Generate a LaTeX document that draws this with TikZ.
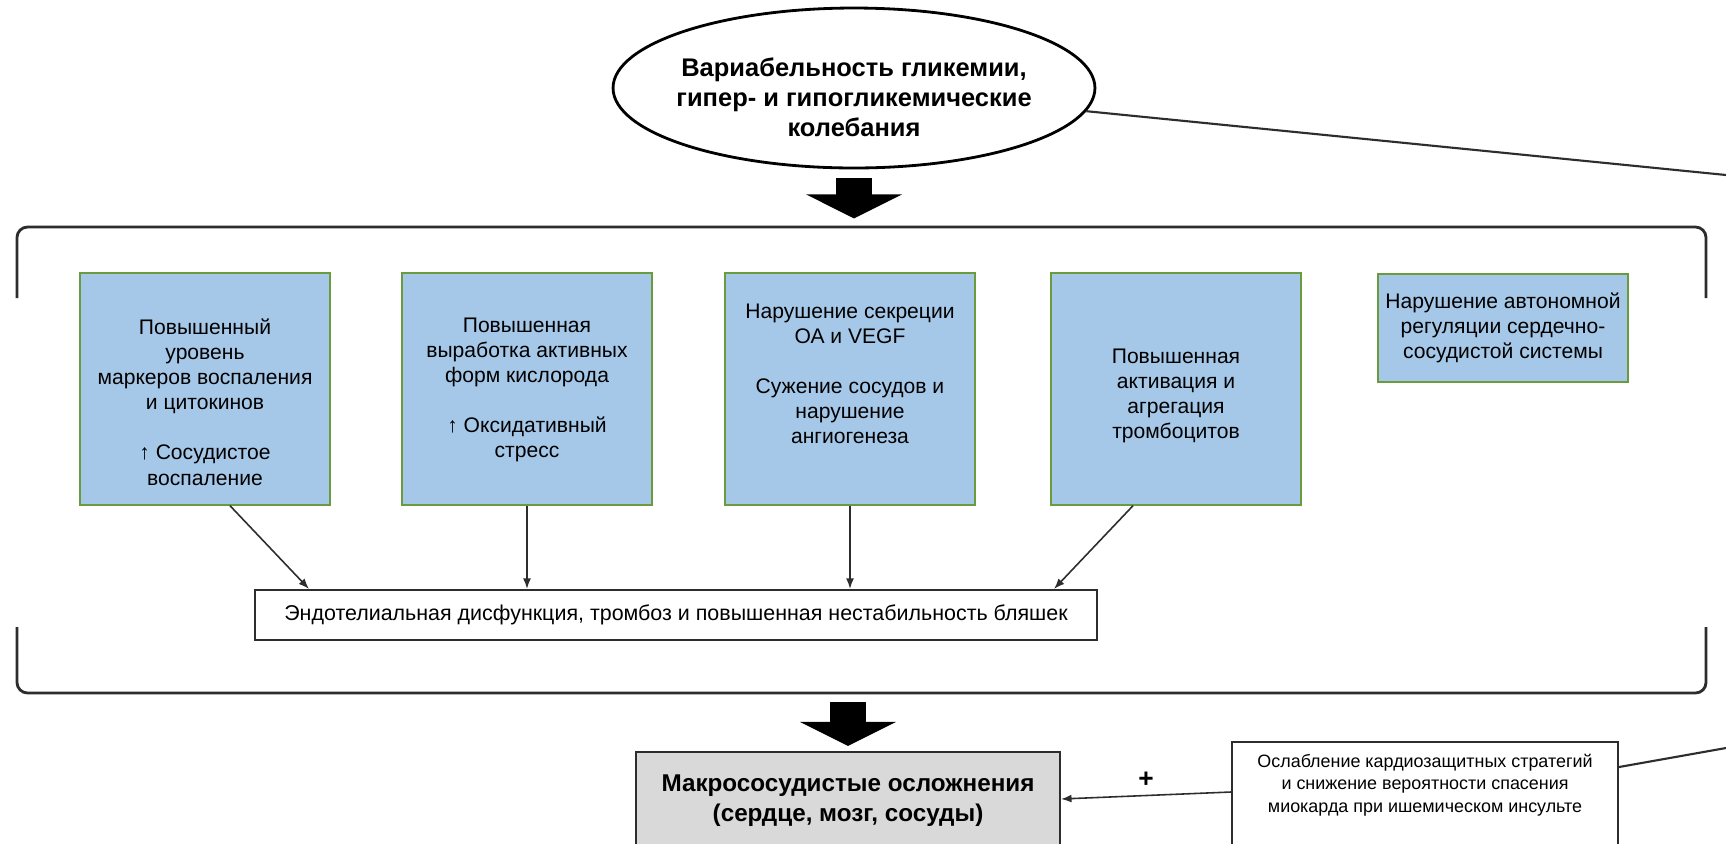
\documentclass[tikz,border=0pt]{standalone}
\usepackage{fontspec}
\setmainfont{Liberation Sans}
\usetikzlibrary{shapes.geometric,arrows.meta,calc}
\definecolor{azul}{RGB}{166,200,232}
\definecolor{verde}{RGB}{106,156,62}
\definecolor{cinza}{RGB}{217,217,217}
\definecolor{escuro}{RGB}{45,45,45}

\begin{document}
\begin{tikzpicture}[x=0.02cm, y=-0.02cm,
    caixa/.style={rectangle, draw=verde, line width=0.8pt, fill=azul,
      minimum width=5cm, minimum height=4.64cm, inner sep=0pt},
    texto/.style={align=center, inner sep=0pt, font=\fontsize{12}{14.3}\selectfont},
    moldura/.style={rectangle, draw=escuro, line width=1.2pt, inner sep=0pt},
    seta/.style={draw=escuro, line width=0.9pt, -{Latex[length=6pt,width=4.5pt]}},
    setagrande/.style={line width=0.72cm, -{Triangle[width=1.9cm,length=0.48cm]}},
    chave/.style={draw=escuro, line width=1.6pt, rounded corners=6pt}]

    \clip (0,0) rectangle (1726,843);
    \fill[white] (0,0) rectangle (1726,843);

    % 1. Elipse no topo
    \node[ellipse, draw, line width=1.6pt, fill=white, minimum width=9.64cm,
      minimum height=3.2cm] (glic) at (854,88) {};
    \node[align=center, inner sep=0pt, font=\bfseries\fontsize{14.5}{17}\selectfont]
      (glict) at (854,97) {Вариабельность гликемии,\\гипер- и гипогликемические\\колебания};
    \coordinate (fim1) at (1726,175);
    \draw[escuro, line width=1.2pt] (glic) -- (fim1);
    \draw[setagrande] ($(glic.south)+(0,9)$) -- ++(0,40);

    % 2. Chave grande
    \draw[chave] (17,298) -- (17,227) -- (1706,227) -- (1706,298);
    \draw[chave] (17,627) -- (17,693) -- (1706,693) -- (1706,627);

    % 3. Caixas azuis
    \node[caixa] (c1) at (205,389) {};
    \node[caixa] (c2) at (527,389) {};
    \node[caixa] (c3) at (850,389) {};
    \node[caixa] (c4) at (1176,389) {};
    \node[caixa, minimum height=2.16cm] (c5) at (1503,328) {};

    \node[texto] (t1) at ($(c1)+(0,13)$) {Повышенный\\уровень\\маркеров воспаления\\и цитокинов\\[\baselineskip]↑ Сосудистое\\воспаление};
    \node[texto] (t2) at ($(c2)+(0,1)$) {Повышенная\\выработка активных\\форм кислорода\\[\baselineskip]↑ Оксидативный\\стресс};
    \node[texto] (t3) at ($(c3)+(0,-15)$) {Нарушение секреции\\ОА и VEGF\\[\baselineskip]Сужение сосудов и\\нарушение\\ангиогенеза};
    \node[texto] (t4) at ($(c4)+(0,7)$) {Повышенная\\активация и\\агрегация\\тромбоцитов};
    \node[texto] (t5) at (c5) {Нарушение автономной\\регуляции сердечно-\\сосудистой системы};

    % 4. Caixa da disfuncao
    \node[moldura, fill=white, minimum width=16.84cm, minimum height=1cm,
      font=\fontsize{12.2}{14.3}\selectfont] (endo) at (676,615)
      {Эндотелиальная дисфункция, тромбоз и повышенная нестабильность бляшек};

    \draw[seta] ($(c1.south)+(25,0)$) -- ($(endo.north)+(-367,0)$);
    \draw[seta] (c2.south) -- (c2.south |- endo.north);
    \draw[seta] (c3.south) -- (c3.south |- endo.north);
    \draw[seta] ($(c4.south)+(-43,0)$) -- ($(endo.north)+(378,0)$);

    % 5. Complicacoes
    \node[moldura, fill=cinza, minimum width=8.48cm, minimum height=1.96cm,
      align=center, font=\bfseries\fontsize{13.8}{17}\selectfont] (macro) at (848,801)
      {Макрососудистые осложнения\\(сердце, мозг, сосуды)};
    \draw[setagrande] ($(macro.north)+(0,-49)$) -- ($(macro.north)+(0,-5)$);

    \node[moldura, fill=white, minimum width=7.72cm, minimum height=2.16cm] (cardio) at (1425,796) {};
    \node[align=center, inner sep=0pt, font=\fontsize{10.2}{12.8}\selectfont] (cardiot) at (1425,785)
      {Ослабление кардиозащитных стратегий\\и снижение вероятности спасения\\миокарда при ишемическом инсульте};
    \draw[seta] ($(cardio.west)+(0,-4)$) -- node[above=1pt, font=\bfseries\fontsize{15}{15}\selectfont] {+} ($(macro.east)+(0,-2)$);
    \coordinate (fim2) at (1726,748);
    \draw[escuro, line width=1.2pt] ($(cardio.east)+(0,-29)$) -- (fim2);

\end{tikzpicture}
\end{document}
